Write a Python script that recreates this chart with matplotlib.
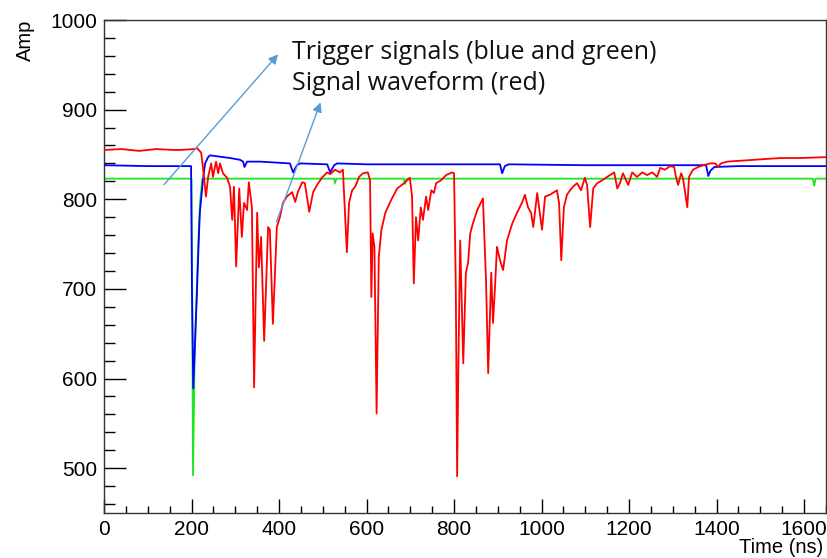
import matplotlib
matplotlib.use("Agg")
import matplotlib.pyplot as plt
import matplotlib.ticker as mticker

# waveform samples (time in ns, amplitude in ADC counts)
red_t = [0, 40, 80, 120, 160, 174, 205, 213, 222, 226, 233, 238, 245, 249, 256, 261, 265, 272,
         281, 288, 293, 297, 302, 309, 315, 320, 327, 331, 338, 343, 350, 354, 359, 366, 375,
         379, 386, 395, 402, 409, 418, 430, 437, 443, 453, 459, 469, 478, 487, 498, 510, 517,
         528, 539, 546, 549, 555, 560, 567, 574, 583, 592, 603, 608, 611, 614, 618, 623, 628,
         634, 643, 656, 670, 686, 699, 704, 708, 713, 718, 724, 729, 736, 741, 748, 754, 759,
         770, 782, 795, 800, 804, 807, 810, 814, 821, 827, 832, 837, 843, 853, 864, 866, 873,
         878, 882, 885, 889, 894, 898, 905, 912, 921, 933, 944, 955, 962, 969, 976, 981, 990,
         1001, 1008, 1019, 1035, 1040, 1045, 1051, 1058, 1065, 1072, 1081, 1090, 1099, 1104,
         1111, 1118, 1127, 1138, 1150, 1166, 1173, 1179, 1186, 1198, 1207, 1218, 1230, 1241,
         1253, 1264, 1271, 1282, 1294, 1303, 1307, 1312, 1319, 1323, 1333, 1337, 1346, 1358,
         1369, 1385, 1397, 1403, 1410, 1424, 1454, 1483, 1515, 1545, 1591, 1650]
red_a = [855, 856, 854, 856, 855, 855, 856, 857, 852, 836, 803, 825, 840, 825, 842, 829, 840, 829,
         824, 814, 777, 814, 725, 812, 758, 796, 788, 819, 791, 590, 785, 724, 758, 642, 769,
         766, 661, 769, 780, 796, 803, 808, 797, 808, 819, 818, 786, 808, 816, 824, 830, 828,
         833, 830, 833, 803, 741, 796, 810, 814, 825, 829, 830, 821, 691, 762, 747, 561, 736,
         766, 785, 799, 812, 818, 824, 803, 706, 780, 754, 791, 777, 803, 788, 810, 807, 818,
         821, 827, 830, 829, 700, 491, 620, 754, 617, 718, 729, 762, 773, 788, 799, 801, 710,
         606, 669, 718, 662, 706, 747, 732, 721, 754, 773, 785, 796, 805, 791, 785, 769, 807,
         766, 803, 805, 810, 796, 732, 791, 805, 810, 814, 818, 810, 824, 816,
         769, 812, 818, 821, 825, 830, 812, 818, 829, 816, 830, 825, 830, 827,
         830, 825, 835, 833, 837, 836, 825, 816, 829, 824, 791, 825, 833, 836,
         838, 840, 840, 836, 840, 842, 843, 844, 845, 846, 846, 847]

blue_t = [0, 100, 199, 201, 204, 208, 212, 216, 219, 226, 231, 238, 242, 288, 311, 318, 321, 327,
          357, 425, 432, 441, 448, 510, 517, 526, 533, 600, 800, 905, 910, 916, 925, 1100, 1300,
          1376, 1381, 1386, 1395, 1450, 1650]
blue_a = [838, 837, 837, 700, 589, 640, 691, 747, 785, 821, 840, 847, 849, 846, 844, 842, 836, 842,
          842, 840, 830, 838, 840, 839, 830, 838, 840, 839, 839, 839, 829, 837, 839, 838, 838,
          838, 826, 832, 836, 837, 837]

green_t = [0, 200, 201.5, 203.4, 207, 212, 216, 220, 225, 526, 528, 531, 685, 688, 691,
           1620, 1623, 1626, 1650]
green_a = [823, 823, 700, 492, 620, 700, 760, 800, 823, 823, 818, 823, 823, 817, 823,
           823, 815, 823, 823]

x_major = list(range(0, 1601, 200))
y_major = list(range(500, 1001, 100))

plt.rcParams["font.family"] = ["Liberation Sans", "DejaVu Sans"]

fig = plt.figure(figsize=(8.27, 5.58), dpi=100)
ax = fig.add_axes([104 / 827, 45 / 558, 722 / 827, 493 / 558])

ax.plot(green_t, green_a, color="#1ee61e", lw=1.3, zorder=2)
ax.plot(blue_t, blue_a, color="#0000ff", lw=1.3, zorder=3)
ax.plot(red_t, red_a, color="#ff0000", lw=1.3, zorder=4)

ax.set_xlim(0, 1650)
ax.set_ylim(450, 1000)
ax.set_xticks(x_major)
ax.set_yticks(y_major)
ax.xaxis.set_minor_locator(mticker.MultipleLocator(50))
ax.yaxis.set_minor_locator(mticker.MultipleLocator(20))
ax.tick_params(axis="x", which="major", direction="in", length=10, width=1, labelsize=15, pad=5)
ax.tick_params(axis="x", which="minor", direction="in", length=5, width=1)
ax.tick_params(axis="y", which="major", direction="in", length=16, width=1, labelsize=15, pad=5)
ax.tick_params(axis="y", which="minor", direction="in", length=8, width=1)
for s in ax.spines.values():
    s.set_linewidth(1.0)
    s.set_color("#333333")

fig.text(25 / 827, 1 - 20 / 558, "Amp", rotation=90, ha="center", va="top", fontsize=14.5)
fig.text(823 / 827, 1 - 553 / 558, "Time (ns)", ha="right", va="baseline", fontsize=14.5)

# call-out arrows and notes laid over the plot
arrow_kw = dict(arrowstyle="-|>", color="#5b9bd5", lw=1.0, mutation_scale=14)
ax.annotate("", xy=(402, 964), xytext=(133, 814), arrowprops=arrow_kw, zorder=6)
ax.annotate("", xy=(497, 911), xytext=(392, 772), arrowprops=arrow_kw, zorder=6)

note_font = ["Open Sans", "DejaVu Sans"]
fig.text(292 / 827, 1 - 59 / 558, "Trigger signals (blue and green)", fontsize=18,
         family=note_font, va="baseline", color="#111111")
fig.text(292 / 827, 1 - 90 / 558, "Signal waveform (red)", fontsize=18,
         family=note_font, va="baseline", color="#111111")

fig.savefig("out.png", dpi=100)
